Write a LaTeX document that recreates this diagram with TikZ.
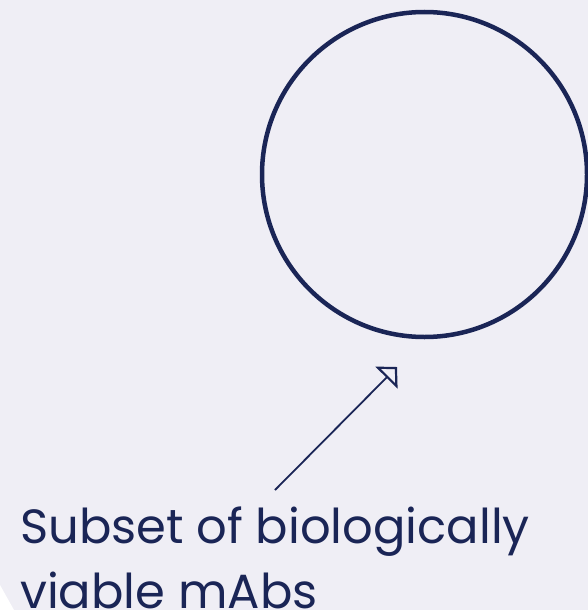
\documentclass[tikz,border=0pt]{standalone}
\usepackage{fontspec}
\setmainfont{Poppins}
\usetikzlibrary{arrows.meta}
\definecolor{bg}{HTML}{EFEEF5}
\definecolor{navy}{HTML}{1A2556}
\tikzset{
  ring/.style={draw=navy, line width=4.5pt},
  pointer/.style={draw=navy, line width=1.8pt, line join=round,
    -{Triangle[open, length=15pt, width=31pt, line width=2.2pt]}},
  label/.style={text=navy, font=\fontsize{48}{65}\selectfont, align=left, inner sep=0pt, anchor=base west}
}
\begin{document}
\begin{tikzpicture}[x=1pt, y=-1pt]
  \useasboundingbox (0,0) rectangle (588,610);
  \fill[bg] (0,0) rectangle (588,610);
  \fill[white] (0,585) -- (14,610) -- (0,610) -- cycle;
  \node[ring, circle, minimum size=325pt, inner sep=0pt] (set) at (424.5,174.5) {};
  \node[label] (txt) at (20,608) {Subset of biologically\\viable mAbs};
  \coordinate (from) at (275,490);
  \coordinate (to) at (397,367);
  \draw[pointer] (from) -- (to);
\end{tikzpicture}
\end{document}
